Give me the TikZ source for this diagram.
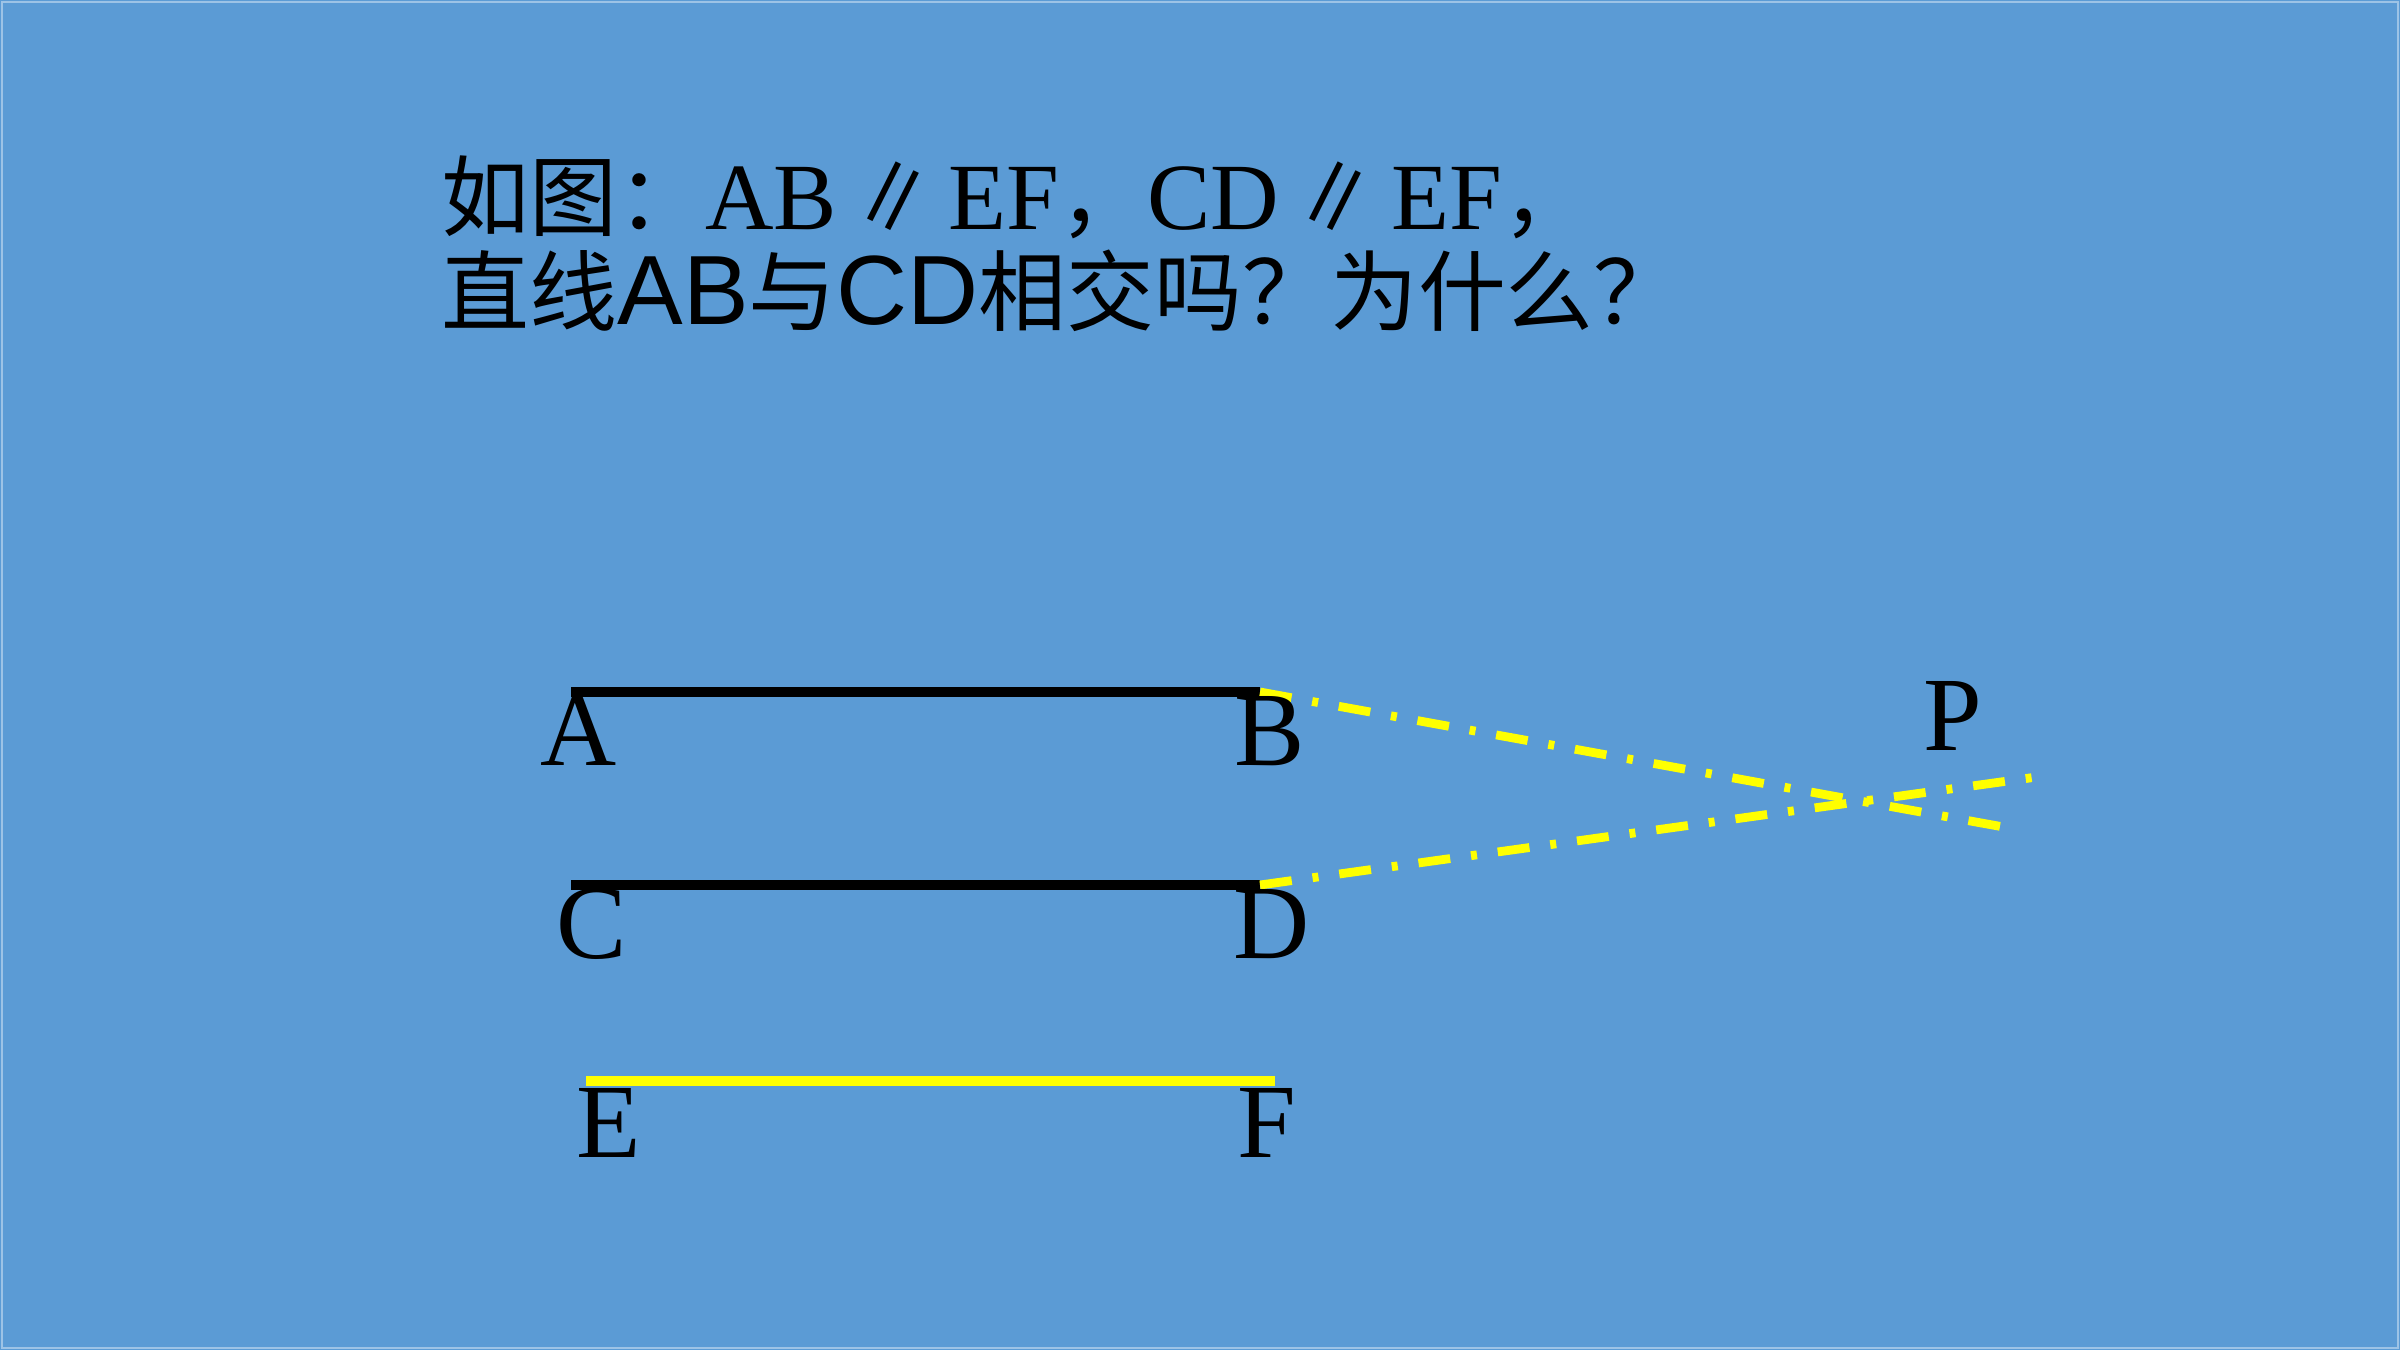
\documentclass[tikz,border=0pt]{standalone}
\usepackage{fontspec}
\setmainfont{Liberation Serif}
\newfontfamily\cjk{Noto Sans CJK SC}
\newfontfamily\lsans{Liberation Sans}
\newcommand{\zh}[1]{{\cjk\fontsize{25}{30}\selectfont #1}}
\newcommand{\ls}[1]{{\lsans\fontsize{28}{30}\selectfont #1}}
\newcommand{\parsign}{\hspace{0.12cm}\zh{∥}\hspace{0.12cm}}
\definecolor{slideblue}{HTML}{5B9BD5}
\definecolor{slideedge}{HTML}{9DC3E6}
\definecolor{hiyellow}{HTML}{FFFF00}
\tikzset{
	seg/.style={line width=2.8pt},
	dashdot/.style={hiyellow,line width=2.5pt,dash pattern=on 0.32cm off 0.21cm on 0.06cm off 0.21cm},
	lbl/.style={anchor=base,inner sep=0pt,font=\fontsize{30}{30}\selectfont},
	ttl/.style={anchor=base west,inner sep=0pt,font=\fontsize{27}{30}\selectfont},
}
\begin{document}
\begin{tikzpicture}
		\fill[slideblue] (0,0) rectangle (24,13.5);
		\draw[slideedge,line width=0.5pt] (0.02,0.02) rectangle (23.98,13.48);
		\node[ttl] (q1) at (4.41,11.2) {\zh{如图：}AB\parsign EF\zh{，}CD\parsign EF\zh{，}};
		\node[ttl] (q2) at (4.41,10.25) {\zh{直线}\ls{AB}\zh{与}\ls{CD}\zh{相交吗？为什么？}};
		\coordinate (A) at (5.71,6.58);
		\coordinate (B) at (12.60,6.58);
		\coordinate (C) at (5.71,4.65);
		\coordinate (D) at (12.60,4.65);
		\coordinate (E) at (5.86,2.69);
		\coordinate (F) at (12.75,2.69);
		\coordinate (Bx) at (20.20,5.20);
		\coordinate (Dx) at (20.51,5.75);
		\draw[seg] (A) -- (B);
		\draw[seg] (C) -- (D);
		\draw[seg,hiyellow] (E) -- (F);
		\draw[dashdot] (B) -- (Bx);
		\draw[dashdot] (D) -- (Dx);
		\node[lbl] (labA) at (5.79,5.85) {A};
		\node[lbl] (labB) at (12.70,5.85) {B};
		\node[lbl] (labC) at (5.92,3.92) {C};
		\node[lbl] (labD) at (12.72,3.92) {D};
		\node[lbl] (labE) at (6.09,1.93) {E};
		\node[lbl] (labF) at (12.67,1.93) {F};
		\node[lbl] (labP) at (19.53,6.0) {P};
	\end{tikzpicture}
\end{document}
